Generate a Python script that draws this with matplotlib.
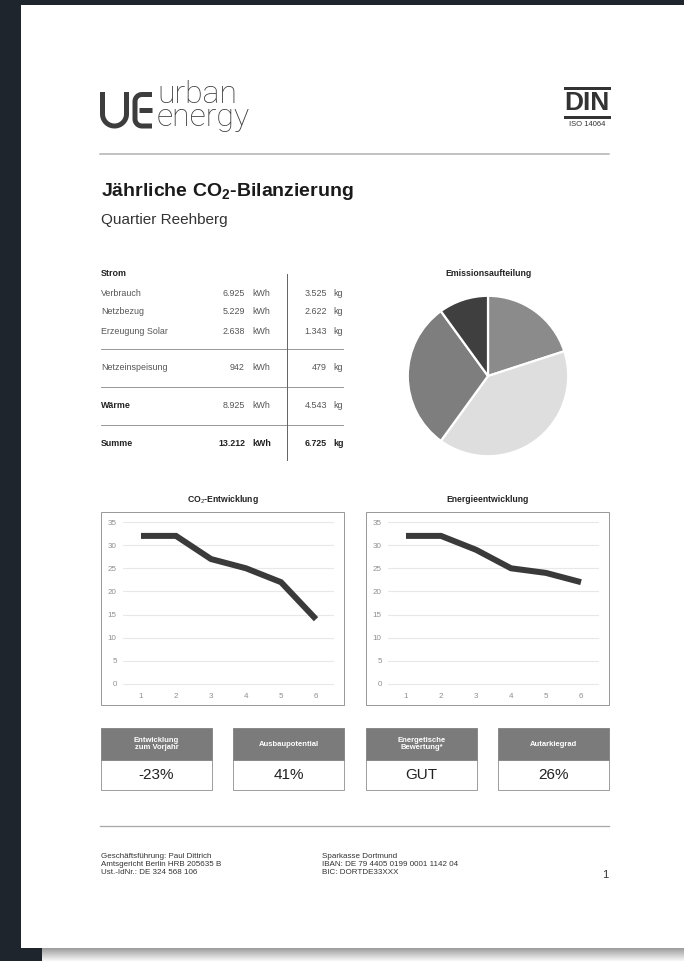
import matplotlib
matplotlib.use('Agg')
import matplotlib.pyplot as plt
from matplotlib.patches import Rectangle
import numpy as np

plt.rcParams['font.family'] = ['Liberation Sans', 'DejaVu Sans']
plt.rcParams['mathtext.fontset'] = 'custom'
plt.rcParams['mathtext.rm'] = 'Liberation Sans'
plt.rcParams['mathtext.bf'] = 'Liberation Sans:bold'

W, H = 684, 961

# table data
row_labels = ['Verbrauch', 'Netzbezug', 'Erzeugung Solar', 'Netzeinspeisung', 'Wärme', 'Summe']
row_bold = [False, False, False, False, True, True]
kwh_values = ['6.925', '5.229', '2.638', '942', '8.925', '13.212']
kg_values = ['3.525', '2.622', '1.343', '479', '4.543', '6.725']

# pie data
pie_shares = [20, 40, 30, 10]
pie_colors = ['#8b8b8b', '#dedede', '#7e7e7e', '#3f3f3f']

# line charts
years = [1, 2, 3, 4, 5, 6]
co2_values = [32, 32, 27, 25, 22, 14]
energy_values = [32, 32, 29, 25, 24, 22]
y_ticks = [0, 5, 10, 15, 20, 25, 30, 35]

# kpi boxes
kpi_titles = ['Entwicklung\nzum Vorjahr', 'Ausbaupotential', 'Energetische\nBewertung*', 'Autarkiegrad']
kpi_values = ['-23%', '41%', 'GUT', '26%']

footer_left = ['Geschäftsführung: Paul Dittrich', 'Amtsgericht Berlin HRB 205635 B', 'Ust.-IdNr.: DE 324 568 106']
footer_right = ['Sparkasse Dortmund', 'IBAN: DE 79 4405 0199 0001 1142 04', 'BIC: DORTDE33XXX']

PX = 0.72  # px -> pt at dpi 100

fig = plt.figure(figsize=(W / 100, H / 100), dpi=100, facecolor='#1e252d')


def px_axes(x0, y0, x1, y1):
    return fig.add_axes([x0 / W, 1 - y1 / H, (x1 - x0) / W, (y1 - y0) / H])


# page in pixel coordinates
page = px_axes(0, 0, W, H)
page.set_facecolor('#1e252d')
grad = np.linspace(0.62, 0.96, 14).reshape(-1, 1)
page.imshow(grad, extent=(42, W, H, 948), cmap='gray', vmin=0, vmax=1, aspect='auto')
page.add_patch(Rectangle((21, 5), W - 21, 943, facecolor='white', edgecolor='none'))
page.set_xlim(0, W)
page.set_ylim(H, 0)
page.axis('off')

# logo
ink = '#3d3d3d'
sw = 5 * PX
t = np.linspace(np.pi, 0, 40)
ux = np.concatenate([[102.5, 102.5], 114.5 + 12 * np.cos(t), [126.5, 126.5]])
uy = np.concatenate([[92, 114], 114 + 12 * np.sin(t), [114, 92]])
page.plot(ux, uy, color=ink, lw=sw, solid_capstyle='butt')
a1 = np.linspace(-np.pi / 2, -np.pi, 20)
a2 = np.linspace(np.pi, np.pi / 2, 20)
ex = np.concatenate([[152], 142 + 7 * np.cos(a1), 142 + 7 * np.cos(a2), [152]])
ey = np.concatenate([[94.5], 101.5 + 7 * np.sin(a1), 119 + 7 * np.sin(a2), [126]])
page.plot(ex, ey, color=ink, lw=sw, solid_capstyle='butt')
page.plot([139, 152], [110.3, 110.3], color=ink, lw=sw, solid_capstyle='butt')
page.text(157, 126, 'urban\nenergy', fontsize=23, family=['Roboto', 'DejaVu Sans'], fontweight='light',
          color=ink, va='baseline', ha='left', linespacing=0.72)

# DIN mark
page.plot([565, 609], [88, 88], color='#333333', lw=3 * PX)
page.plot([565, 609], [117, 117], color='#333333', lw=3 * PX)
page.text(587, 103, 'DIN', fontsize=19, fontweight='bold', color='#333333', ha='center', va='center')
page.text(587, 125, 'ISO 14064', fontsize=5.5, color='#333333', ha='center', va='center')

page.plot([100, 609], [154, 154], color='#b0b0b0', lw=1.5 * PX)

# title
page.text(101, 192, r'Jährliche CO$_\mathbf{2}$-Bilanzierung', fontsize=14, fontweight='bold',
          color='#1a1a1a', ha='left', va='center')
page.text(101, 220, 'Quartier Reehberg', fontsize=11, color='#333333', ha='left', va='center')

# table
fs_tab = 6.4
page.text(101, 274, 'Strom', fontsize=fs_tab, fontweight='bold', color='#222222', va='center')
row_y = [293, 312, 331, 368, 406, 444]
for lab, bold, kw, kgv, y in zip(row_labels, row_bold, kwh_values, kg_values, row_y):
    fw = 'bold' if bold else 'normal'
    col = '#222222' if bold else '#555555'
    num_fw = 'bold' if lab == 'Summe' else 'normal'
    num_col = '#222222' if lab == 'Summe' else '#555555'
    page.text(101, y, lab, fontsize=fs_tab, fontweight=fw, color=col, va='center')
    page.text(245, y, kw, fontsize=fs_tab, fontweight=num_fw, color=num_col, va='center', ha='right')
    page.text(252, y, 'kWh', fontsize=fs_tab, fontweight=num_fw, color=num_col, va='center')
    page.text(327, y, kgv, fontsize=fs_tab, fontweight=num_fw, color=num_col, va='center', ha='right')
    page.text(333, y, 'kg', fontsize=fs_tab, fontweight=num_fw, color=num_col, va='center')
for y in [349, 387, 425]:
    page.plot([101, 343], [y, y], color='#9a9a9a', lw=1 * PX)
page.plot([287, 287], [274, 460], color='#666666', lw=1 * PX)

# pie
page.text(488, 274, 'Emissionsaufteilung', fontsize=6.3, fontweight='bold', color='#222222',
          ha='center', va='center')
r = 81
ax_pie = px_axes(488 - r, 376 - r, 488 + r, 376 + r)
ax_pie.pie(pie_shares, colors=pie_colors, startangle=90, counterclock=False,
           wedgeprops=dict(edgecolor='white', linewidth=1.6))
ax_pie.set_xlim(-1.01, 1.01)
ax_pie.set_ylim(-1.01, 1.01)


# line charts
def line_chart(x_off, title, values):
    page.add_patch(Rectangle((101 + x_off, 512), 243, 193, facecolor='white',
                             edgecolor='#9a9a9a', lw=1 * PX))
    page.text(222.5 + x_off, 499, title, fontsize=6.2, fontweight='bold', color='#222222',
              ha='center', va='center')
    ax = px_axes(123 + x_off, 516, 334 + x_off, 690)
    ax.plot(years, values, color='#3a3a3a', lw=6 * PX, solid_capstyle='butt', solid_joinstyle='miter')
    ax.set_xlim(0.486, 6.514)
    ax.set_ylim(-1.3, 36.3)
    ax.set_yticks(y_ticks)
    ax.set_xticks(years)
    ax.grid(axis='y', color='#e8e8e8', lw=0.8)
    ax.set_axisbelow(True)
    for s in ax.spines.values():
        s.set_visible(False)
    ax.tick_params(length=0, labelsize=5.8, labelcolor='#8f8f8f')
    ax.tick_params(axis='y', pad=4.5)
    ax.tick_params(axis='x', pad=2)
    ax.patch.set_alpha(0)


line_chart(0, r'CO$_2$-Entwicklung', co2_values)
line_chart(265, 'Energieentwicklung', energy_values)

# kpi boxes
for x0, head, val in zip([101, 233, 366, 498], kpi_titles, kpi_values):
    page.add_patch(Rectangle((x0, 760), 111, 30, facecolor='white', edgecolor='#a0a0a0', lw=1 * PX))
    page.add_patch(Rectangle((x0, 728), 111, 32, facecolor='#7b7b7b', edgecolor='#8a8a8a', lw=1 * PX))
    page.text(x0 + 55.5, 744, head, fontsize=5.5, fontweight='bold', color='white',
              ha='center', va='center', linespacing=1.0)
    page.text(x0 + 55.5, 775, val, fontsize=11, color='#222222', ha='center', va='center')

# footer
page.plot([100, 609], [826, 826], color='#a8a8a8', lw=1.3 * PX)
for i, (l, rr) in enumerate(zip(footer_left, footer_right)):
    page.text(101, 856 + 8 * i, l, fontsize=5.8, color='#333333', va='center')
    page.text(322, 856 + 8 * i, rr, fontsize=5.8, color='#333333', va='center')
page.text(608, 875, '1', fontsize=8, color='#333333', ha='right', va='center')

fig.savefig('out.png', dpi=100, facecolor=fig.get_facecolor())
